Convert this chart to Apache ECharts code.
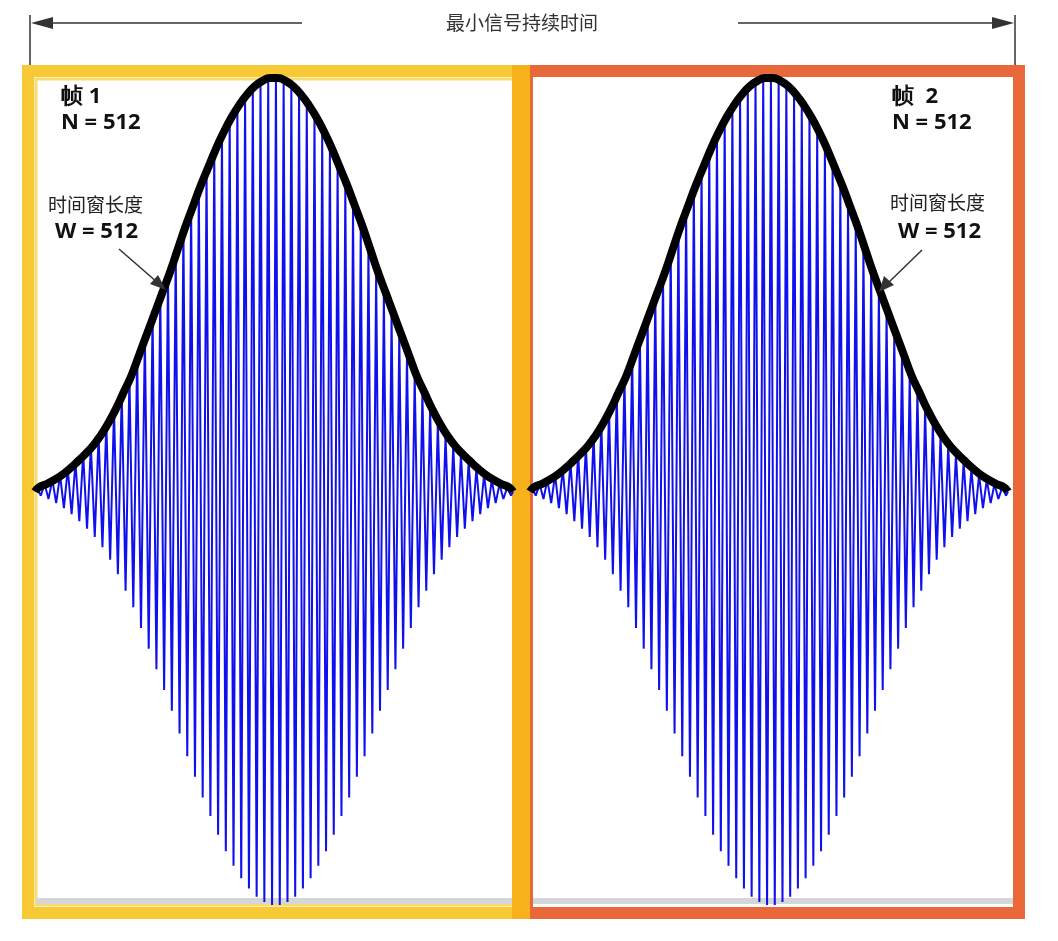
<!DOCTYPE html>
<html><head><meta charset="utf-8">
<script src="https://cdn.jsdelivr.net/npm/echarts@6/dist/echarts.min.js"></script>
<style>html,body{margin:0;padding:0;background:#fff}#c{width:1058px;height:941px}</style>
</head><body><div id="c"></div>
<script>
// Peak amplitude of each carrier cycle within one frame (62 cycles)
const cycleAmplitude = [0.01,0.018,0.028,0.04,0.055,0.072,0.09,0.11,0.135,0.165,0.2,0.24,0.28,0.33,0.38,0.43,0.48,0.53,0.585,0.64,0.69,0.74,0.785,0.83,0.87,0.905,0.935,0.96,0.98,0.993,1.0,
1.0,0.993,0.98,0.96,0.935,0.905,0.87,0.83,0.785,0.74,0.69,0.64,0.585,0.53,0.48,0.43,0.38,0.33,0.28,0.24,0.2,0.165,0.135,0.11,0.09,0.072,0.055,0.04,0.028,0.018,0.01];
const frameLabels = ['帧 1','帧  2'];
const frameN = ['N = 512','N = 512'];
const windowLabel = '时间窗长度';
const windowW = ['W = 512','W = 512'];
const titleText = '最小信号持续时间';

const nC = cycleAmplitude.length;
function carrier(){const d=[[0,0]];cycleAmplitude.forEach((a,k)=>{d.push([k+0.25,a]);d.push([k+0.75,-a]);});d.push([nC,0]);return d;}
function envelope(){const d=[[0,0]];cycleAmplitude.forEach((a,k)=>d.push([k+0.5,a]));d.push([nC,0]);return d;}

const grids=[{left:35,width:478,top:78,height:827},{left:530,width:478,top:78,height:827}];
const xAxis=grids.map((g,i)=>({gridIndex:i,type:'value',min:0,max:nC,show:false}));
const yAxis=grids.map((g,i)=>({gridIndex:i,type:'value',min:-1,max:1,show:false}));
const series=[];
[0,1].forEach(i=>{
  series.push({type:'line',xAxisIndex:i,yAxisIndex:i,data:carrier(),symbol:'none',lineStyle:{color:'#1010ee',width:2},z:2});
  series.push({type:'line',xAxisIndex:i,yAxisIndex:i,data:envelope(),symbol:'none',smooth:true,clip:false,lineStyle:{color:'#000',width:8},z:3});
});
const bold={fontFamily:'Open Sans',fontWeight:'bold',fontSize:22,fill:'#111'};
const cjk={fontFamily:'Noto Sans CJK SC',fontSize:19,fill:'#222'};
const graphic=[
 {type:'rect',shape:{x:28,y:71,width:496,height:842},style:{fill:'none',stroke:'#f6c935',lineWidth:12},z:1},
 {type:'rect',shape:{x:36,y:79,width:480,height:826},style:{fill:'none',stroke:'#f9dc70',lineWidth:3},z:1},
 {type:'rect',shape:{x:527,y:71,width:492,height:842},style:{fill:'none',stroke:'#e8683a',lineWidth:12},z:1},
 {type:'rect',shape:{x:512,y:65,width:18,height:854},style:{fill:'#f7b21b'},z:1},
 {type:'rect',shape:{x:36,y:898,width:476,height:6},style:{fill:'#d6d6d6'},z:1},
 {type:'rect',shape:{x:533,y:898,width:480,height:6},style:{fill:'#d6d6d6'},z:1},
 {type:'line',shape:{x1:30,y1:15,x2:30,y2:66},style:{stroke:'#333',lineWidth:1.5}},
 {type:'line',shape:{x1:1015,y1:15,x2:1015,y2:66},style:{stroke:'#333',lineWidth:1.5}},
 {type:'line',shape:{x1:40,y1:23,x2:302,y2:23},style:{stroke:'#333',lineWidth:1.5}},
 {type:'line',shape:{x1:738,y1:23,x2:1005,y2:23},style:{stroke:'#333',lineWidth:1.5}},
 {type:'polygon',shape:{points:[[31,23],[53,17],[53,29]]},style:{fill:'#333'}},
 {type:'polygon',shape:{points:[[1014,23],[992,17],[992,29]]},style:{fill:'#333'}},
 {type:'text',x:522,y:23,style:{text:titleText,fontFamily:'Noto Sans CJK SC',fontSize:19,fill:'#333',align:'center',verticalAlign:'middle'}},
 {type:'text',x:61,y:97,style:Object.assign({text:frameLabels[0],verticalAlign:'middle'},bold),z:10},
 {type:'text',x:61,y:123,style:Object.assign({text:frameN[0],verticalAlign:'middle'},bold),z:10},
 {type:'text',x:48,y:205,style:Object.assign({text:windowLabel,verticalAlign:'middle'},cjk),z:10},
 {type:'text',x:55,y:232,style:Object.assign({text:windowW[0],verticalAlign:'middle'},bold),z:10},
 {type:'line',shape:{x1:119,y1:249,x2:158,y2:283},style:{stroke:'#333',lineWidth:1.5},z:10},
 {type:'polygon',shape:{points:[[166,290],[150,284],[158,275]]},style:{fill:'#333'},z:10},
 {type:'text',x:892,y:97,style:Object.assign({text:frameLabels[1],verticalAlign:'middle'},bold),z:10},
 {type:'text',x:892,y:123,style:Object.assign({text:frameN[1],verticalAlign:'middle'},bold),z:10},
 {type:'text',x:890,y:203,style:Object.assign({text:windowLabel,verticalAlign:'middle'},cjk),z:10},
 {type:'text',x:898,y:232,style:Object.assign({text:windowW[1],verticalAlign:'middle'},bold),z:10},
 {type:'line',shape:{x1:922,y1:250,x2:887,y2:284},style:{stroke:'#333',lineWidth:1.5},z:10},
 {type:'polygon',shape:{points:[[879,292],[884,276],[894,285]]},style:{fill:'#333'},z:10}
];
const chart=echarts.init(document.getElementById('c'));
chart.setOption({animation:false,backgroundColor:'#fff',grid:grids,xAxis,yAxis,series,graphic});
</script></body></html>
